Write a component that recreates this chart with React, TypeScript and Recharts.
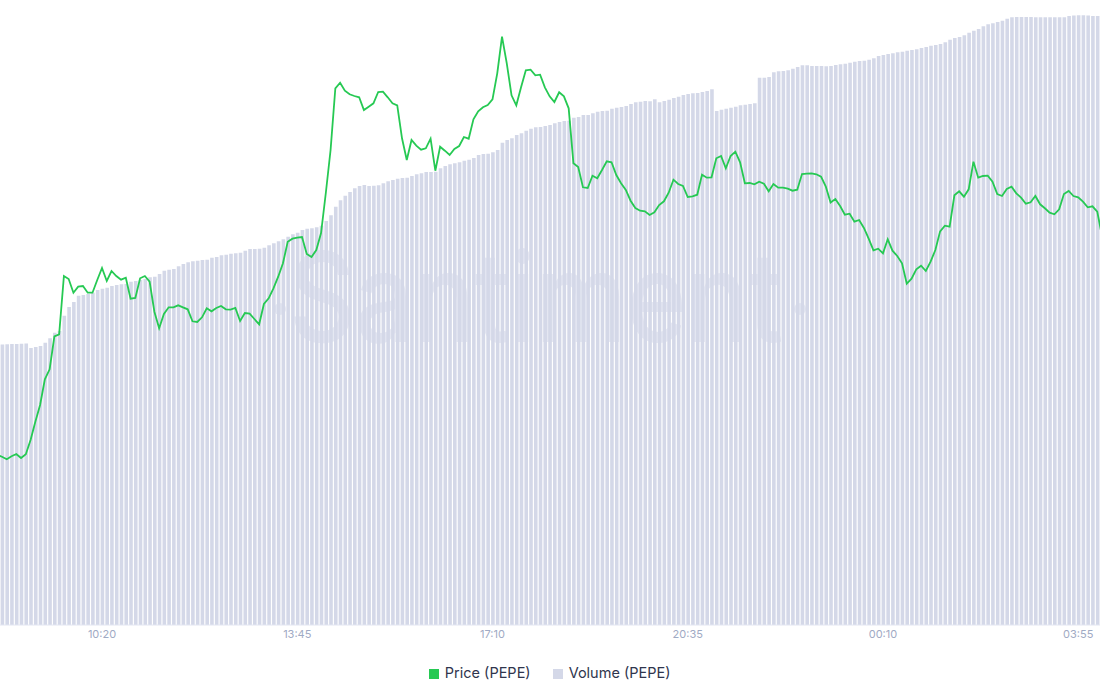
import { Bar, ComposedChart, Legend, Line, XAxis, YAxis } from "recharts";

// one slot per 5 min candle (relative units, no y axis shown)
const priceValues = [
  170, 168.3, 165.7, 168.7, 171, 167, 170.7, 185, 203.3, 220,
  245.7, 255.7, 288.7, 290.7, 349, 346, 332.3, 338.3, 339, 332.3,
  332.3, 345, 357, 344, 354, 349, 345.3, 347.3, 326.3, 327,
  346.7, 349, 343.3, 313.3, 296.7, 311, 317.7, 317.7, 319.7, 317.7,
  315.7, 303.7, 303, 307.7, 316.7, 313.7, 317, 319, 315.7, 315.3,
  317, 304, 312, 311.3, 306, 300.7, 321, 326.7, 336.7, 348.3,
  361.7, 383.3, 386.3, 387.3, 388, 371, 368, 375, 392, 432,
  475, 536.7, 542.3, 534.3, 530.7, 529, 527.7, 515, 518.3, 521.7,
  533, 533.3, 527.7, 521.7, 519.7, 486.7, 465, 485, 479.3, 475.3,
  476.7, 486.3, 454.3, 478.3, 474.3, 470, 476, 479, 488, 486.3,
  505.7, 513.7, 517.7, 520, 525.7, 551.7, 588.3, 561.7, 529.7, 519.7,
  537.7, 554.7, 555.3, 549.7, 550.3, 537.7, 528.7, 523, 532.7, 528.7,
  516.7, 461.7, 458, 437.7, 437, 449.3, 446.8, 455, 463.7, 462.7,
  450, 441.7, 435, 424.3, 417, 414.3, 413.7, 410, 412.7, 420,
  423.7, 432.3, 445.3, 441, 439, 428, 428.7, 430.3, 450.3, 447.3,
  447.7, 466.7, 469, 456.7, 469, 473.3, 462.7, 441.7, 442, 440.7,
  443.3, 441.3, 433.7, 441, 437.3, 437.3, 436.3, 434.3, 435.3, 451,
  451.3, 451.7, 450.7, 448.3, 438.3, 422.5, 426, 419, 410.3, 411.3,
  403.3, 405, 397, 386.3, 374.7, 376.3, 371.7, 385.7, 374.3, 369,
  361.7, 341.3, 346.3, 355.7, 359.3, 354, 363.3, 375, 393.7, 399.3,
  398.3, 429.7, 433.7, 428.3, 435.7, 463.3, 447.3, 449, 449.3, 443.3,
  431, 429, 436, 438.3, 431.7, 427.3, 421.3, 422.7, 429, 420.7,
  416.7, 412.3, 410.7, 415.7, 431, 434, 429, 427.7, 423.3, 417.7,
  418.7, 413.3, 389,
];

const volumeValues = [
  280.5, 280.5, 280.7, 281, 281, 281.3, 281.5, 277, 278, 279,
  282.3, 286.7, 292.3, 294, 309.3, 318, 323, 329.3, 330, 331,
  332.3, 335, 336.3, 337.3, 339, 340, 340.7, 341, 343.3, 344,
  345, 346, 347.7, 348.3, 351, 354.3, 355.3, 356, 358.7, 361,
  362.7, 363.7, 364.3, 365, 365.3, 367.3, 368, 369.7, 370.3, 371.3,
  371.7, 372.3, 374.3, 376, 376, 376.3, 377.3, 379.7, 381.7, 383.7,
  385.7, 388.3, 390.7, 392.3, 395, 396.3, 396.7, 397.7, 399.3, 404,
  409.7, 418.3, 424.7, 429.3, 433, 436.7, 439, 440, 439, 439.3,
  439.7, 441.7, 443.7, 445, 446.3, 447, 447.3, 449, 450.7, 451.7,
  453, 453, 453.3, 456.7, 459, 460.7, 461.7, 462.7, 464.3, 465.3,
  467, 470, 471, 471.3, 472.7, 475, 482.3, 485, 486.7, 490,
  491.7, 494.3, 496.3, 497.7, 498, 499, 500, 501.7, 503, 504,
  504.3, 507.3, 508, 510, 510, 511.7, 513.3, 514, 514.3, 516.3,
  517.3, 518, 519, 521, 522.7, 523.3, 524, 523.7, 525.7, 522.7,
  524, 525.3, 527, 528.3, 530, 531, 531.7, 532, 533, 534,
  535.7, 514, 515.3, 516.3, 517.3, 518.3, 519.7, 520.3, 521, 521.7,
  547.3, 547.3, 548, 552.7, 553.7, 554, 554.7, 556.3, 558, 559.7,
  559.7, 559, 559, 559, 558.7, 559, 560, 560.7, 561.3, 562.3,
  563.3, 564, 564.3, 565.3, 566.7, 569, 570, 571, 571.7, 572.7,
  573.3, 574.3, 575, 575.7, 577, 578, 579.3, 580, 581, 582.7,
  585.3, 587, 588, 589.7, 592.3, 594.3, 596, 598.7, 600.7, 601.7,
  603, 604.3, 606.3, 607.7, 608, 608, 608, 608, 607.7, 607.7,
  607.7, 607.7, 607.7, 607.7, 607.7, 609, 609.5, 609.7, 609.7, 609.5,
  609, 609, 609,
];

const tickSlots = [22, 63, 104, 145, 186, 227];
const tickLabels = ["10:20", "13:45", "17:10", "20:35", "00:10", "03:55"];

const chartData = priceValues.map((price, slot) => ({ slot, price, volume: volumeValues[slot] }));

export default function App() {
  return (
    <div style={{ position: "absolute", left: 0, top: 0, width: 1100, height: 700, background: "#fff", overflow: "hidden" }}>
      <ComposedChart
        width={1100}
        height={700}
        data={chartData}
        barCategoryGap={0}
        margin={{ top: 0, right: -4.4, left: -5.14, bottom: 18 }}
        style={{ fontFamily: "Inter" }}
      >
        <XAxis
          dataKey="slot"
          ticks={tickSlots}
          interval={0}
          height={37}
          axisLine={{ stroke: "#e3e6f2" }}
          tickLine={false}
          tickSize={3}
          tickMargin={2}
          tick={{ fontSize: 11, fill: "#9faac4" }}
          tickFormatter={(slot: number) => tickLabels[tickSlots.indexOf(slot)]}
        />
        <YAxis hide domain={[0, 625]} />
        <Bar dataKey="volume" name="Volume (PEPE)" fill="#d4d8e8" barSize={3.6} isAnimationActive={false} />
        <text
          x={289}
          y={342}
          fontSize={125}
          fontWeight={500}
          fill="#dcdfee"
          opacity={0.7}
          textLength={494}
          lengthAdjust="spacingAndGlyphs"
        >
          Santiment
        </text>
        <circle cx={280} cy={309} r={6} fill="#dcdfee" opacity={0.7} />
        <circle cx={800} cy={309} r={6} fill="#dcdfee" opacity={0.7} />
        <Line
          dataKey="price"
          name="Price (PEPE)"
          type="linear"
          stroke="#26c953"
          strokeWidth={1.8}
          dot={false}
          activeDot={false}
          isAnimationActive={false}
        />
        <Legend
          iconType="square"
          iconSize={10}
          wrapperStyle={{ transform: "translateX(11px)" }}
          formatter={(value: string) => (
            <span style={{ color: "#2f354d", fontSize: 14.5, marginLeft: 2, marginRight: 12 }}>{value}</span>
          )}
        />
      </ComposedChart>
    </div>
  );
}
